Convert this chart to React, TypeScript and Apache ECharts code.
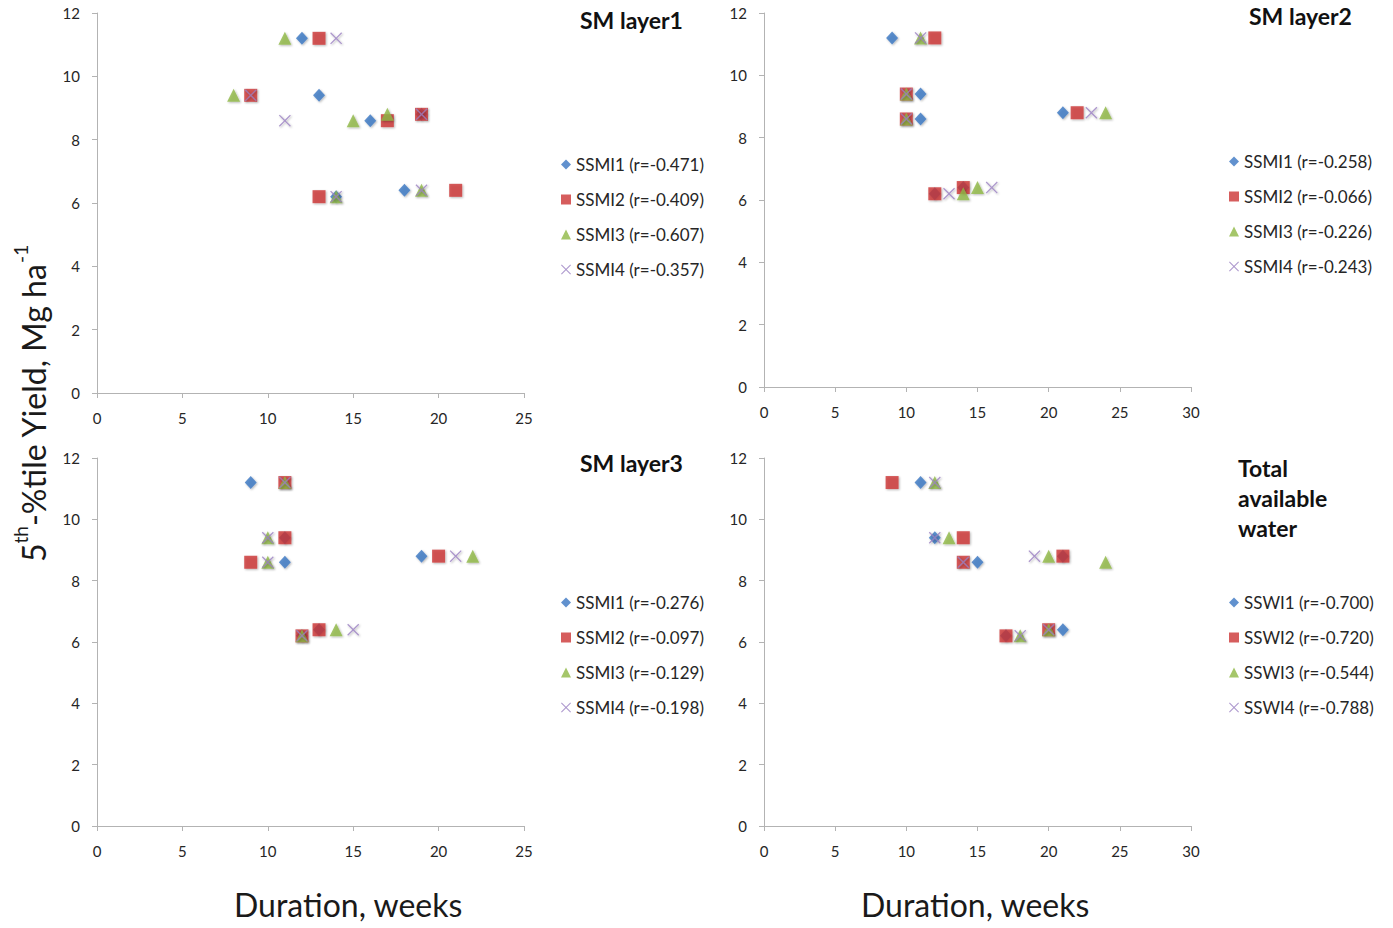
import React, { useEffect, useRef } from "react";
import * as echarts from "echarts";

// Yield levels (Mg/ha) shared by all panels, one per year
const yieldLevels = [11.2, 9.4, 8.6, 8.8, 6.2, 6.4];

// Panel titles
const panelTitles = ["SM layer1", "SM layer2", "SM layer3", "Total\navailable\nwater"];

// Series names (legend labels)
const namesLayer1 = ["SSMI1 (r=-0.471)", "SSMI2 (r=-0.409)", "SSMI3 (r=-0.607)", "SSMI4 (r=-0.357)"];
const namesLayer2 = ["SSMI1 (r=-0.258)", "SSMI2 (r=-0.066)", "SSMI3 (r=-0.226)", "SSMI4 (r=-0.243)"];
const namesLayer3 = ["SSMI1 (r=-0.276)", "SSMI2 (r=-0.097)", "SSMI3 (r=-0.129)", "SSMI4 (r=-0.198)"];
const namesTaw = ["SSWI1 (r=-0.700)", "SSWI2 (r=-0.720)", "SSWI3 (r=-0.544)", "SSWI4 (r=-0.788)"];

// Durations (weeks), aligned with yieldLevels
const layer1Index1 = [12, 13, 16, 19, 14, 18];
const layer1Index2 = [13, 9, 17, 19, 13, 21];
const layer1Index3 = [11, 8, 15, 17, 14, 19];
const layer1Index4 = [14, 9, 11, 19, 14, 19];

const layer2Index1 = [9, 11, 11, 21, 12, 14];
const layer2Index2 = [12, 10, 10, 22, 12, 14];
const layer2Index3 = [11, 10, 10, 24, 14, 15];
const layer2Index4 = [11, 10, 10, 23, 13, 16];

const layer3Index1 = [9, 11, 11, 19, 12, 13];
const layer3Index2 = [11, 11, 9, 20, 12, 13];
const layer3Index3 = [11, 10, 10, 22, 12, 14];
const layer3Index4 = [11, 10, 10, 21, 12, 15];

const tawIndex1 = [11, 12, 15, 21, 17, 21];
const tawIndex2 = [9, 14, 14, 21, 17, 20];
const tawIndex3 = [12, 13, 24, 20, 18, 20];
const tawIndex4 = [12, 12, 14, 19, 18, 20];

const xMaxes = [25, 30, 25, 30];

const CROSS =
  "path://M0,0.9L0.9,0L6,5.1L11.1,0L12,0.9L6.9,6L12,11.1L11.1,12L6,6.9L0.9,12L0,11.1L5.1,6Z";
const symbols = ["diamond", "rect", "triangle", CROSS];
const symbolSizes = [[12, 13], 13, 13, 12];
const colors = ["#3a76c2", "#cc3535", "#8fb845", "#9a80c2"];

const FONT = "Lato, 'Open Sans', sans-serif";

export default function App() {
  const ref = useRef<HTMLDivElement>(null);

  useEffect(() => {
    if (!ref.current) return;
    const chart = echarts.init(ref.current, null, { renderer: "svg" });

    const panels = [
      { names: namesLayer1, vals: [layer1Index1, layer1Index2, layer1Index3, layer1Index4] },
      { names: namesLayer2, vals: [layer2Index1, layer2Index2, layer2Index3, layer2Index4] },
      { names: namesLayer3, vals: [layer3Index1, layer3Index2, layer3Index3, layer3Index4] },
      { names: namesTaw, vals: [tawIndex1, tawIndex2, tawIndex3, tawIndex4] },
    ];

    const grids = [
      { left: 97, top: 13, width: 427, height: 380 },
      { left: 764, top: 13, width: 427, height: 374 },
      { left: 97, top: 458, width: 427, height: 368 },
      { left: 764, top: 458, width: 427, height: 368 },
    ];

    const axisLine = { show: true, lineStyle: { color: "#b3b3b3", width: 1 } };
    const axisTick = { show: true, inside: false, length: 5, lineStyle: { color: "#b3b3b3" } };
    const axisLabel = { color: "#262626", fontSize: 15, fontFamily: FONT };

    const xAxis = grids.map((_, i) => ({
      type: "value",
      gridIndex: i,
      min: 0,
      max: xMaxes[i],
      interval: 5,
      axisLine,
      axisTick,
      axisLabel: { ...axisLabel, margin: 17 },
      splitLine: { show: false },
    }));
    const yAxis = grids.map((_, i) => ({
      type: "value",
      gridIndex: i,
      min: 0,
      max: 12,
      interval: 2,
      axisLine,
      axisTick,
      axisLabel: { ...axisLabel, margin: 17 },
      splitLine: { show: false },
    }));

    const series: any[] = [];
    panels.forEach((p, pi) => {
      p.vals.forEach((durations, si) => {
        series.push({
          type: "scatter",
          name: p.names[si],
          xAxisIndex: pi,
          yAxisIndex: pi,
          symbol: symbols[si],
          symbolSize: symbolSizes[si],
          itemStyle: {
            color: colors[si],
            shadowBlur: 2,
            shadowColor: "rgba(0,0,0,0.35)",
            shadowOffsetY: 1,
            shadowOffsetX: 1,
          },
          data: durations.map((d, k) => [d, yieldLevels[k]]),
        });
      });
    });

    const legendPos = [
      { left: 556, top: 151 },
      { left: 1224, top: 148 },
      { left: 556, top: 589 },
      { left: 1224, top: 589 },
    ];
    const legend = panels.map((p, pi) => ({
      ...legendPos[pi],
      orient: "vertical",
      selectedMode: false,
      itemWidth: 10,
      itemHeight: 10,
      itemGap: 18,
      textStyle: { fontSize: 17, fontFamily: FONT, color: "#262626", lineHeight: 17 },
      data: p.names.map((n, si) => ({
        name: n,
        icon: symbols[si],
        itemStyle: { color: colors[si], shadowBlur: 0 },
      })),
    }));

    const titleStyle = { fontSize: 23, fontWeight: "bold", fontFamily: FONT, fill: "#111" };

    chart.setOption({
      animation: false,
      backgroundColor: "#ffffff",
      grid: grids,
      xAxis,
      yAxis,
      legend,
      series,
      graphic: [
        { type: "text", left: 580, top: 8, style: { ...titleStyle, text: panelTitles[0] } },
        { type: "text", left: 1249, top: 4, style: { ...titleStyle, text: panelTitles[1] } },
        { type: "text", left: 580, top: 451, style: { ...titleStyle, text: panelTitles[2] } },
        {
          type: "text",
          left: 1238,
          top: 453,
          style: { ...titleStyle, text: panelTitles[3], lineHeight: 30 },
        },
        {
          type: "text",
          left: 234,
          top: 888,
          style: { text: "Duration, weeks", fontSize: 32, fontFamily: FONT, fill: "#1a1a1a" },
        },
        {
          type: "text",
          left: 861,
          top: 888,
          style: { text: "Duration, weeks", fontSize: 32, fontFamily: FONT, fill: "#1a1a1a" },
        },
        {
          type: "text",
          x: 11,
          y: 562,
          rotation: Math.PI / 2,
          style: {
            text: "{n|5}{s|th}{n|-%tile Yield, Mg ha}{s|-1}",
            fontFamily: FONT,
            fill: "#1a1a1a",
            textVerticalAlign: "top",
            rich: {
              n: { fontSize: 32, fontFamily: FONT, fill: "#1a1a1a", verticalAlign: "bottom", lineHeight: 38 },
              s: { fontSize: 19, fontFamily: FONT, fill: "#1a1a1a", verticalAlign: "top", lineHeight: 38 },
            },
          },
        },
      ],
    });

    return () => chart.dispose();
  }, []);

  return (
    <div
      ref={ref}
      style={{ position: "fixed", left: 0, top: 0, width: 1393, height: 928, background: "#fff" }}
    />
  );
}
